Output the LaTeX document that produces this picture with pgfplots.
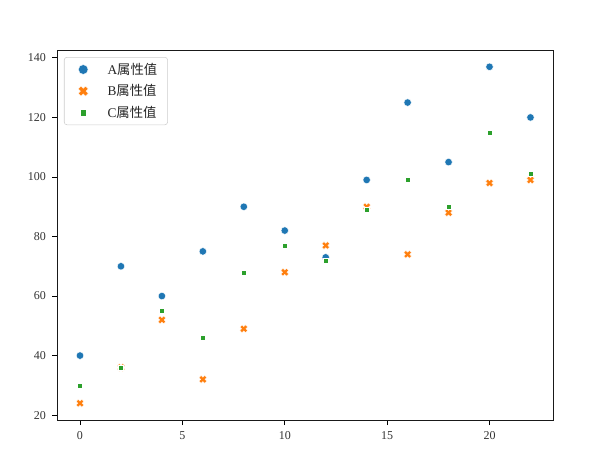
\documentclass[border=0pt]{standalone}
\usepackage{pgfplots}
\pgfplotsset{compat=1.18}
\usepackage{fontspec}
\setmainfont{Liberation Serif}
\newfontfamily\cjk{Noto Sans CJK SC}
\usetikzlibrary{plotmarks}
\definecolor{tabblue}{HTML}{1F77B4}
\definecolor{taborange}{HTML}{FF7F0E}
\definecolor{tabgreen}{HTML}{2CA02C}
\pgfdeclareplotmark{Xfill}{%
  \pgftransformrotate{45}%
  \pgfpathmoveto{\pgfpoint{0.38\pgfplotmarksize}{\pgfplotmarksize}}%
  \pgfpathlineto{\pgfpoint{0.38\pgfplotmarksize}{0.38\pgfplotmarksize}}%
  \pgfpathlineto{\pgfpoint{\pgfplotmarksize}{0.38\pgfplotmarksize}}%
  \pgfpathlineto{\pgfpoint{\pgfplotmarksize}{-0.38\pgfplotmarksize}}%
  \pgfpathlineto{\pgfpoint{0.38\pgfplotmarksize}{-0.38\pgfplotmarksize}}%
  \pgfpathlineto{\pgfpoint{0.38\pgfplotmarksize}{-\pgfplotmarksize}}%
  \pgfpathlineto{\pgfpoint{-0.38\pgfplotmarksize}{-\pgfplotmarksize}}%
  \pgfpathlineto{\pgfpoint{-0.38\pgfplotmarksize}{-0.38\pgfplotmarksize}}%
  \pgfpathlineto{\pgfpoint{-\pgfplotmarksize}{-0.38\pgfplotmarksize}}%
  \pgfpathlineto{\pgfpoint{-\pgfplotmarksize}{0.38\pgfplotmarksize}}%
  \pgfpathlineto{\pgfpoint{-0.38\pgfplotmarksize}{0.38\pgfplotmarksize}}%
  \pgfpathlineto{\pgfpoint{-0.38\pgfplotmarksize}{\pgfplotmarksize}}%
  \pgfpathclose
  \pgfusepathqfillstroke
}
\pgfplotstableread{
x A B C
0 40 24 30
2 70 36 36
4 60 52 55
6 75 32 46
8 90 49 68
10 82 68 77
12 73 77 72
14 99 90 89
16 125 74 99
18 105 88 90
20 137 98 115
22 120 99 101
}\datatable
\begin{document}
\begin{tikzpicture}
\begin{axis}[
  scale only axis, width=371.6pt, height=277.5pt,
  xmin=-1.1, xmax=23.1, ymin=18.35, ymax=142.65,
  xtick={0,5,10,15,20}, ytick={20,40,...,140},
  tick align=outside, tick pos=left,
  major tick length=3.75pt,
  tick style={black, line width=0.6pt},
  axis line style={line width=0.6pt, black!90},
  /pgf/number format/assume math mode=true,
  ticklabel style={font=\fontsize{9}{10}\selectfont, text=black!80},
  yticklabel style={xshift=-1.5pt},
  xticklabel style={yshift=-1.5pt},
  legend style={
    at={(axis description cs:0.0131,0.981)}, anchor=north west,
    draw=black!20, rounded corners=2pt, fill=white, fill opacity=0.8, text opacity=1,
    inner xsep=5.75pt, inner ysep=2.2pt,
    font=\fontsize{10}{11}\selectfont,
    row sep=2.25pt,
    cells={anchor=west},
    nodes={text=black!85},
  },
  legend image code/.code={%
    \path[draw=none] (0,0) -- (24.75pt,0);
    \path[mark repeat=2,mark phase=2,#1,draw=none,fill opacity=1,draw opacity=1,
      every mark/.append style={scale=1.3}] plot coordinates {(0pt,0pt)(8.5pt,0pt)(17pt,0pt)};
  },
]
\addplot[only marks, mark=*, mark size=2.8pt, mark options={fill=tabblue, draw=white, line width=0.3pt}] table[x=x,y=A] {\datatable};
\addlegendentry{A{\cjk 属性值}}
\addplot[only marks, mark=Xfill, mark size=2.95pt, mark options={fill=taborange, draw=white, line width=0.25pt}] table[x=x,y=B] {\datatable};
\addlegendentry{B{\cjk 属性值}}
\addplot[only marks, mark=square*, mark size=1.85pt, mark options={fill=tabgreen, draw=white, line width=0.3pt}] table[x=x,y=C] {\datatable};
\addlegendentry{C{\cjk 属性值}}
\coordinate (bl) at (rel axis cs:0,0);
\coordinate (tr) at (rel axis cs:1,1);
\end{axis}
\path ([xshift=-43.1pt,yshift=-30pt]bl) rectangle ([xshift=37.5pt,yshift=37.5pt]tr);
\end{tikzpicture}
\end{document}
